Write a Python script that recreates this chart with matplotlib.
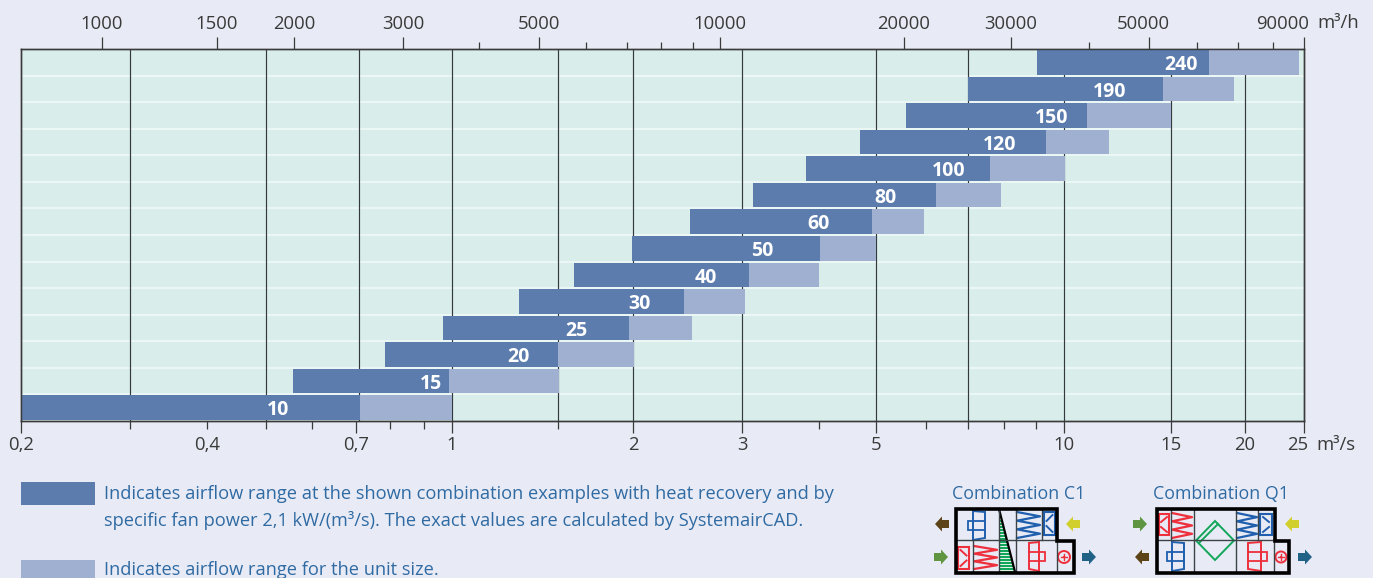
import numpy as np
import matplotlib
matplotlib.use('Agg')
import matplotlib.pyplot as plt
from matplotlib.patches import Rectangle, Polygon, Circle
from matplotlib.ticker import FixedLocator, FixedFormatter, NullFormatter
from matplotlib.transforms import ScaledTranslation

plt.rcParams['font.family'] = ['Open Sans', 'DejaVu Sans']

# unit sizes, bottom row first
sizes = ['10', '15', '20', '25', '30', '40', '50', '60', '80', '100', '120', '150', '190', '240']
# airflow in m3/s
range_start = [0.2, 0.556, 0.783, 0.967, 1.29, 1.595, 1.99, 2.47, 3.13, 3.81, 4.70, 5.58, 7.0, 9.04]
combo_end = [0.711, 0.989, 1.5, 1.97, 2.42, 3.08, 4.02, 4.92, 6.22, 7.6, 9.35, 10.9, 14.55, 17.4]
unit_end = [1.0, 1.505, 2.01, 2.49, 3.03, 4.0, 5.0, 5.96, 7.91, 10.05, 11.86, 15.0, 19.2, 24.5]

grid_values = [0.3, 0.5, 0.709, 1, 1.5, 2, 3, 5, 7, 10, 15, 20]
bottom_major = [0.2, 0.4, 0.7, 1, 2, 3, 5, 10, 15, 20, 25]
bottom_major_labels = ['0,2', '0,4', '0,7', '1', '2', '3', '5', '10', '15', '20', '25']
bottom_minor = [0.3, 0.5, 0.6, 0.8, 0.9, 1.5, 4, 6, 7, 8, 9]
top_major = [1000, 1500, 2000, 3000, 5000, 10000, 20000, 30000, 50000, 90000]
top_major_labels = ['1000', '1500', '2000', '3000', '5000', '10000', '20000', '30000', '50000', '90000']
top_minor = [4000, 6000, 7000, 8000, 9000, 40000, 60000, 70000, 80000]

legend_lines = ['Indicates airflow range at the shown combination examples with heat recovery and by',
                'specific fan power 2,1 kW/(m³/s). The exact values are calculated by SystemairCAD.']
legend_unit = 'Indicates airflow range for the unit size.'

BG = '#e8ebf5'
PLOT_BG = '#d9eeea'
DARK = '#5b7cad'
LIGHT = '#a0b0d1'
INK = '#3a3a3a'
BLUE_TEXT = '#2f6aa3'
RED = '#ee2f3c'
BLUE = '#1f5fae'
GREEN = '#12a65a'


# the printed scale is not a perfect log scale, so pin it to where its ticks sit
def make_scale(values, pixels):
    lv = np.log10(values)
    px = np.array(pixels, dtype=float)

    def forward(v):
        return np.interp(np.log10(np.maximum(v, 1e-9)), lv, px)

    def inverse(p):
        return 10 ** np.interp(p, px, lv)

    return forward, inverse


bottom_scale = make_scale([0.2, 0.3, 0.4, 0.5, 0.6, 0.7, 0.8, 0.9, 1, 1.5, 2, 3, 4, 5, 6, 7, 10, 15, 20, 25],
                          [21, 130, 207, 266, 312, 356, 390, 424, 452, 558, 633, 742, 819, 876, 926, 968, 1064, 1171, 1245, 1304])
top_scale = make_scale([720, 1000, 1500, 2000, 3000, 4000, 5000, 6000, 7000, 8000, 9000, 10000, 20000, 30000, 40000, 50000, 60000, 70000, 80000, 90000],
                       [21, 102, 217, 294, 403, 479, 539, 586, 627, 661, 693, 720, 904, 1011, 1089, 1149, 1197, 1238, 1273, 1304])

fig = plt.figure(figsize=(13.73, 5.78), dpi=100, facecolor=BG)
ax = fig.add_axes([21 / 1373, 1 - 421 / 578, 1283 / 1373, 372 / 578], facecolor=PLOT_BG)
ax.set_xscale('function', functions=bottom_scale)
ax.set_xlim(0.2, 25)
ax.set_ylim(-0.5, 13.5)
ax.set_yticks([])

rows = np.arange(len(sizes))
ax.hlines(rows[:-1] + 0.5, 0.2, 25, color='#eef8f6', lw=1.3, zorder=1)
ax.vlines(grid_values, -0.5, 13.5, color='#33393c', lw=0.85, zorder=2)

start = np.array(range_start)
ax.barh(rows, np.array(combo_end) - start, left=start, height=0.93, color=DARK, zorder=3)
ax.barh(rows, np.array(unit_end) - np.array(combo_end), left=combo_end, height=0.93, color=LIGHT, zorder=3)

label_x = [0.524, 0.924, 1.29, 1.61, 2.05, 2.62, 3.24, 4.0, 5.17, 6.53, 7.88, 9.56, 11.9, 15.6]
for r, name, x in zip(rows, sizes, label_x):
    ax.text(x, r - 0.1, name, color='white', fontweight='bold', fontsize=14, ha='center', va='center', zorder=4)

ax.xaxis.set_major_locator(FixedLocator(bottom_major))
ax.xaxis.set_major_formatter(FixedFormatter(bottom_major_labels))
ax.xaxis.set_minor_locator(FixedLocator(bottom_minor))
ax.xaxis.set_minor_formatter(NullFormatter())
ax.tick_params(axis='x', which='major', length=8.5, width=0.9, color=INK, labelcolor=INK, labelsize=13.3, pad=2.5)
ax.tick_params(axis='x', which='minor', length=5.5, width=0.9, color=INK)
major_ticks = ax.xaxis.get_major_ticks()
major_ticks[1].tick1line.set_markersize(5.5)  # 0,4 keeps a short tick in the original
last_label = ax.get_xticklabels()[-1]
last_label.set_transform(last_label.get_transform() + ScaledTranslation(-6 / 100, 0, fig.dpi_scale_trans))

top = ax.twiny()
top.set_xscale('function', functions=top_scale)
top.set_xlim(720, 90000)
top.xaxis.set_major_locator(FixedLocator(top_major))
top.xaxis.set_major_formatter(FixedFormatter(top_major_labels))
top.xaxis.set_minor_locator(FixedLocator(top_minor))
top.xaxis.set_minor_formatter(NullFormatter())
top.tick_params(axis='x', which='major', length=8.5, width=0.9, color=INK, labelcolor=INK, labelsize=13.3, pad=3)
top.tick_params(axis='x', which='minor', length=5, width=0.9, color=INK)
for tick_label, shift in zip(top.get_xticklabels(), [0, 0, 0, 0, 0, 0, 0, 0, -6, -21]):
    tick_label.set_transform(tick_label.get_transform() + ScaledTranslation(shift / 100, 0, fig.dpi_scale_trans))

for a in (ax, top):
    for s in a.spines.values():
        s.set_color(INK)
        s.set_linewidth(1)

# overlay in pixels for the legend and the unit sketches
ov = fig.add_axes([0, 0, 1, 1], facecolor='none')
ov.set_xlim(0, 1373)
ov.set_ylim(578, 0)
ov.axis('off')

ov.text(1316, 445, 'm³/s', color=INK, fontsize=13.3, va='center')
ov.text(1317, 23, 'm³/h', color=INK, fontsize=13.3, va='center')

ov.add_patch(Rectangle((21, 482), 74, 23, color=DARK, lw=0))
ov.add_patch(Rectangle((21, 560), 74, 23, color=LIGHT, lw=0))
ov.text(104, 494, legend_lines[0], color=BLUE_TEXT, fontsize=13.15, va='center')
ov.text(104, 520, legend_lines[1], color=BLUE_TEXT, fontsize=13.15, va='center')
ov.text(104, 570, legend_unit, color=BLUE_TEXT, fontsize=13.15, va='center')
ov.text(1019, 494, 'Combination C1', color=BLUE_TEXT, fontsize=12.8, va='center', ha='center')
ov.text(1221, 494, 'Combination Q1', color=BLUE_TEXT, fontsize=12.8, va='center', ha='center')


def arrow(x0, y, d, colour):
    # x0 is the tail, d the direction (+1 right, -1 left)
    pts = [(x0, y - 4), (x0 + d * 7, y - 4), (x0 + d * 7, y - 7.5), (x0 + d * 14, y),
           (x0 + d * 7, y + 7.5), (x0 + d * 7, y + 4), (x0, y + 4)]
    ov.add_patch(Polygon(pts, closed=True, color=colour, lw=0))


def draw_fan(x0, x1, y0, y1, d, colour):
    yc = (y0 + y1) / 2
    ov.add_patch(Polygon([(x0, y0 + (1 if d > 0 else 0)), (x1, y0 + (0 if d > 0 else 1)),
                          (x1, y1 + (1 if d > 0 else -1)), (x0, y1 + (-1 if d > 0 else 1))],
                         closed=True, fill=False, ec=colour, lw=1.4))
    ov.plot([x0, x1], [yc - 4.5, yc - 4.5], color=colour, lw=1.3)
    ov.plot([x0, x1], [yc + 4.5, yc + 4.5], color=colour, lw=1.3)
    hub = x1 if d > 0 else x0 - 5.5
    ov.add_patch(Rectangle((hub, yc - 4.5), 5.5, 9, fill=False, ec=colour, lw=1.3))


def coil(x0, x1, y0, y1, colour):
    ys = np.linspace(y0, y1, 7)
    xs = [x0, x1, x0, x1, x0, x1, x0]
    ov.plot(xs, ys, color=colour, lw=1.6)


def damper(x0, x1, y0, y1, d, colour):
    ov.add_patch(Rectangle((x0, y0), x1 - x0, y1 - y0, fill=False, ec=colour, lw=1.5))
    xm = (x0 + x1) / 2
    ym = (y0 + y1) / 2
    a, b = (xm - 3 * d, xm + 3 * d)
    ov.plot([a, b], [y0 + 3, ym - 2.5], color=colour, lw=1.4)
    ov.plot([a, b], [y1 - 3, ym + 2.5], color=colour, lw=1.4)


def heater(x, y, r):
    ov.add_patch(Circle((x, y), r, fill=False, ec=RED, lw=1.4))
    ov.plot([x - r * 0.55, x + r * 0.55], [y, y], color=RED, lw=1)
    ov.plot([x, x], [y - r * 0.55, y + r * 0.55], color=RED, lw=1)
    ov.add_patch(Circle((x, y), 1.2, color=RED, lw=0))


def inner(segments):
    for x0, y0, x1, y1 in segments:
        ov.plot([x0, x1], [y0, y1], color='#3c4347', lw=1, zorder=3)


def outline(x0, x1, x2):
    ov.add_patch(Polygon([(x0, 508.5), (x1, 508.5), (x1, 540.5), (x2, 540.5), (x2, 573), (x0, 573)],
                         closed=True, fill=False, ec='black', lw=2.6, zorder=5))


# combination C1
inner([(956, 540, 1057, 540), (1016, 509, 1016, 540), (1042, 509, 1042, 540), (973, 540, 973, 572),
       (999, 509, 999, 572), (1015.5, 540, 1015.5, 572), (1057, 540, 1057, 572)])
ov.add_patch(Polygon([(999, 510), (999, 572), (1015, 572)], closed=True, color=GREEN, lw=0))
for y in np.arange(516, 572, 3):
    ov.plot([999, 999 + (y - 510) * 16 / 62], [y, y], color='#e8f5ee', lw=0.7)
ov.plot([999, 1015], [509, 572], color='black', lw=1.6)
draw_fan(973, 985, 511, 539, -1, BLUE)
coil(1017, 1040, 512, 538, BLUE)
damper(1044, 1055, 512, 535, -1, BLUE)
damper(958, 969, 547, 569, 1, RED)
coil(974, 997, 546, 569, RED)
draw_fan(1029, 1039, 542, 570, 1, RED)
heater(1064, 557, 6)
outline(956, 1057, 1074)
arrow(949, 524, -1, '#5c4318')
arrow(934, 557, 1, '#5f9440')
arrow(1080, 524, -1, '#d1cf2c')
arrow(1082, 557, 1, '#1f6286')

# combination Q1
inner([(1157, 540, 1275, 540), (1171, 509, 1171, 540), (1194, 509, 1194, 572), (1236, 509, 1236, 572),
       (1258, 509, 1258, 540), (1274, 540, 1274, 572)])
damper(1159, 1169, 514, 535, -1, RED)
coil(1172, 1192, 513, 538, RED)
coil(1237, 1257, 513, 538, BLUE)
damper(1260, 1272, 514, 535, 1, BLUE)
draw_fan(1172, 1184, 542, 570, -1, BLUE)
draw_fan(1248, 1261, 542, 570, 1, RED)
heater(1281, 557, 5.5)
ov.add_patch(Polygon([(1215, 521), (1234, 540.5), (1215, 560), (1196, 540.5)], closed=True, fill=False, ec=GREEN, lw=1.4))
ov.plot([1199, 1218], [543, 524], color=GREEN, lw=1.4)
outline(1157, 1275, 1289)
arrow(1133, 524, 1, '#5f9440')
arrow(1149, 557, -1, '#5c4318')
arrow(1299, 524, -1, '#d1cf2c')
arrow(1298, 557, 1, '#1f6286')

fig.savefig('out.png', dpi=100, facecolor=BG)
